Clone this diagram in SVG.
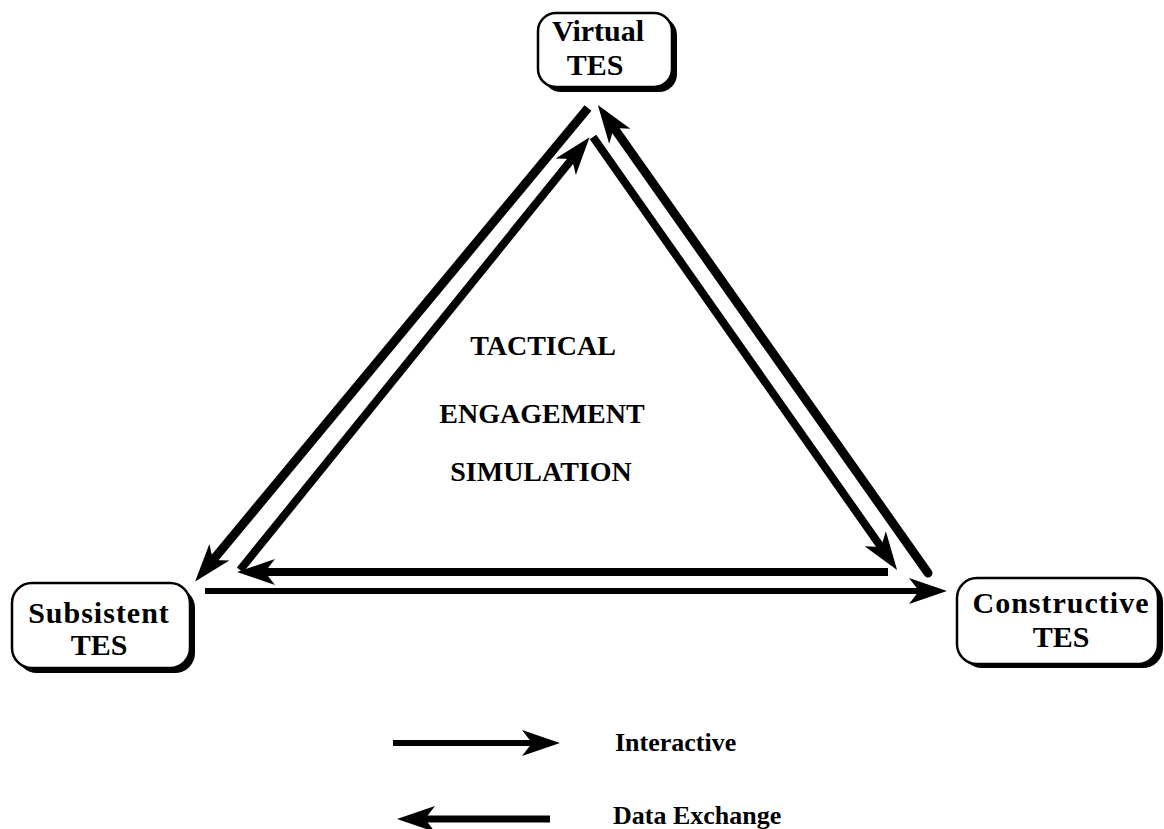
<svg xmlns="http://www.w3.org/2000/svg" width="1164" height="829" viewBox="0 0 1164 829">
<style>
.bg{fill:#fff}
.box{fill:#fff;stroke:#000;stroke-width:2.5}
.shadow{fill:#000}
.lbl{font-family:"Liberation Serif","Times New Roman",serif;font-weight:bold;fill:#000;text-anchor:middle}
.node{font-size:30px}
.center{font-size:28px}
.legend{font-size:26px;text-anchor:start}
.ln{stroke:#000;fill:none}
</style>
<defs>
<marker id="ah" markerUnits="userSpaceOnUse" markerWidth="42" markerHeight="30" viewBox="-12 -15 42 30" refX="0" refY="0" orient="auto">
<path d="M28,0 L-10,-13 L0,0 L-10,13 Z" fill="#000"/>
</marker>
</defs>
<rect class="bg" x="0" y="0" width="1164" height="829"/>

<g id="connectors">
<line class="ln" x1="588" y1="108" x2="213" y2="560" stroke-width="9" marker-end="url(#ah)"/>
<line class="ln" x1="928" y1="573" x2="614" y2="128" stroke-width="9" stroke-linecap="round" marker-end="url(#ah)"/>
<line class="ln" x1="205" y1="591" x2="919" y2="591" stroke-width="6" marker-end="url(#ah)"/>
<line class="ln" x1="593" y1="137" x2="881" y2="547" stroke-width="8" marker-end="url(#ah)"/>
<line class="ln" x1="888" y1="572" x2="265" y2="572" stroke-width="8" marker-end="url(#ah)"/>
<line class="ln" x1="240" y1="570" x2="572" y2="159" stroke-width="8" marker-end="url(#ah)"/>
</g>

<g id="virtual">
<rect class="shadow" x="543" y="17" width="134" height="75" rx="18"/>
<rect class="box" x="538" y="13" width="134" height="74" rx="18"/>
<text class="lbl node" x="598" y="41">Virtual</text>
<text class="lbl node" x="595" y="75">TES</text>
</g>

<g id="subsistent">
<rect class="shadow" x="17" y="588" width="178" height="85" rx="20"/>
<rect class="box" x="12" y="583" width="178" height="85" rx="20"/>
<text class="lbl node" x="99" y="623" letter-spacing="1">Subsistent</text>
<text class="lbl node" x="99" y="655">TES</text>
</g>

<g id="constructive">
<rect class="shadow" x="962" y="582" width="201" height="86" rx="20"/>
<rect class="box" x="957" y="578" width="201" height="86" rx="20"/>
<text class="lbl node" x="1061" y="613" letter-spacing="1">Constructive</text>
<text class="lbl node" x="1061" y="647">TES</text>
</g>

<g id="center-label">
<text class="lbl center" x="543" y="355">TACTICAL</text>
<text class="lbl center" x="542" y="423">ENGAGEMENT</text>
<text class="lbl center" x="541" y="481">SIMULATION</text>
</g>

<g id="legend">
<line class="ln" x1="393" y1="743" x2="532" y2="743" stroke-width="6" marker-end="url(#ah)"/>
<line class="ln" x1="550" y1="819" x2="425" y2="819" stroke-width="7" marker-end="url(#ah)"/>
<text class="lbl legend" x="615" y="751">Interactive</text>
<text class="lbl legend" x="613" y="824">Data Exchange</text>
</g>
</svg>
